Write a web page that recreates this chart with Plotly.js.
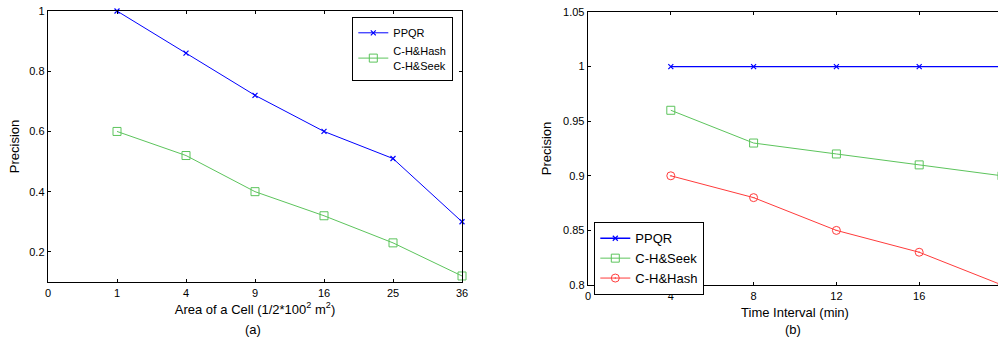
<!DOCTYPE html>
<html><head><meta charset="utf-8">
<script src="https://cdn.plot.ly/plotly-3.0.1.min.js"></script>
<style>html,body{margin:0;padding:0;overflow:hidden;background:#fff}#chart{width:1006px;height:337px}</style>
</head><body><div id="chart"></div>
<script>
// ---- data: panel (a) ----
const areaTickLabels = ['0', '1', '4', '9', '16', '25', '36'];
const areaIndex = [1, 2, 3, 4, 5, 6];
const ppqrA = [1.0, 0.86, 0.72, 0.60, 0.51, 0.30];
const chA = [0.60, 0.52, 0.40, 0.32, 0.23, 0.12];
// ---- data: panel (b) ----
const timeInterval = [4, 8, 12, 16, 20];
const ppqrB = [1.0, 1.0, 1.0, 1.0, 1.0];
const seekB = [0.96, 0.93, 0.92, 0.91, 0.90];
const hashB = [0.90, 0.88, 0.85, 0.83, 0.80];

const W = 1006, H = 337;
const BLUE = '#0000ff', GREEN = '#5cc45c', RED = '#ff3b3b';
const font = {family: 'Liberation Sans, Arial, sans-serif', color: '#000'};

const traces = [
  {x: areaIndex, y: ppqrA, name: 'PPQR', mode: 'lines+markers', xaxis: 'x', yaxis: 'y',
   line: {color: BLUE, width: 1}, marker: {symbol: 'x-thin-open', size: 5, color: BLUE, line: {color: BLUE, width: 1.2}}, legend: 'legend', cliponaxis: false},
  {x: areaIndex, y: chA, name: 'C-H&amp;Hash<br>C-H&amp;Seek', mode: 'lines+markers', xaxis: 'x', yaxis: 'y',
   line: {color: GREEN, width: 1}, marker: {symbol: 'square-open', size: 8, color: GREEN, line: {color: GREEN, width: 1}}, legend: 'legend', cliponaxis: false},
  {x: timeInterval, y: ppqrB, name: 'PPQR', mode: 'lines+markers', xaxis: 'x2', yaxis: 'y2',
   line: {color: BLUE, width: 1.3}, marker: {symbol: 'x-thin-open', size: 5, color: BLUE, line: {color: BLUE, width: 1.2}}, legend: 'legend2'},
  {x: timeInterval, y: seekB, name: 'C-H&amp;Seek', mode: 'lines+markers', xaxis: 'x2', yaxis: 'y2',
   line: {color: GREEN, width: 1}, marker: {symbol: 'square-open', size: 8, color: GREEN, line: {color: GREEN, width: 1}}, legend: 'legend2'},
  {x: timeInterval, y: hashB, name: 'C-H&amp;Hash', mode: 'lines+markers', xaxis: 'x2', yaxis: 'y2',
   line: {color: RED, width: 1}, marker: {symbol: 'circle-dot', size: 8, color: 'rgba(0,0,0,0)', line: {color: RED, width: 1}}, legend: 'legend2'}
];

const axisCommon = {
  showline: true, linecolor: '#000', linewidth: 1.3, mirror: 'ticks',
  ticks: 'inside', ticklen: 3, tickcolor: '#000', tickwidth: 1,
  showgrid: false, zeroline: false, tickfont: Object.assign({size: 11}, font)
};

const layout = {
  width: W, height: H, margin: {l: 0, r: 0, t: 0, b: 0},
  paper_bgcolor: '#fff', plot_bgcolor: '#fff', font: font, showlegend: true,
  xaxis: Object.assign({}, axisCommon, {
    domain: [48 / W, 462 / W], range: [0, 6], tickmode: 'array',
    tickvals: [0, 1, 2, 3, 4, 5, 6], ticktext: areaTickLabels, anchor: 'y',
    title: {text: 'Area of a Cell (1/2*100<sup>2</sup> m<sup>2</sup>)', font: Object.assign({size: 13}, font), standoff: 7}
  }),
  yaxis: Object.assign({}, axisCommon, {
    domain: [1 - 282 / H, 1 - 11 / H], range: [0.1, 1], tickmode: 'array',
    tickvals: [0.2, 0.4, 0.6, 0.8, 1], ticktext: ['0.2', '0.4', '0.6', '0.8', '1'], anchor: 'x',
    title: {text: 'Precision', font: Object.assign({size: 13}, font), standoff: 6}
  }),
  xaxis2: Object.assign({}, axisCommon, {
    domain: [588 / W, 1002 / W], range: [0, 20], tickmode: 'array',
    tickvals: [0, 4, 8, 12, 16, 20], anchor: 'y2',
    title: {text: 'Time Interval (min)', font: Object.assign({size: 13}, font), standoff: 7}
  }),
  yaxis2: Object.assign({}, axisCommon, {
    domain: [1 - 285 / H, 1 - 12 / H], range: [0.8, 1.05], tickmode: 'array',
    tickvals: [0.8, 0.85, 0.9, 0.95, 1, 1.05], ticktext: ['0.8', '0.85', '0.9', '0.95', '1', '1.05'], anchor: 'x2',
    title: {text: 'Precision', font: Object.assign({size: 13}, font), standoff: 8}
  }),
  legend: {
    x: 352 / W, y: 1 - 17 / H, xanchor: 'left', yanchor: 'top',
    bordercolor: '#000', borderwidth: 1.3, bgcolor: '#fff',
    font: Object.assign({size: 11}, font), tracegroupgap: 0, itemwidth: 30
  },
  legend2: {
    x: 594 / W, y: 1 - 222 / H, xanchor: 'left', yanchor: 'top',
    bordercolor: '#000', borderwidth: 1.3, bgcolor: '#fff',
    font: Object.assign({size: 13}, font), tracegroupgap: 0, itemwidth: 30
  },
  annotations: [
    {text: '(a)', x: 253 / W, y: 1 - 329 / H, xref: 'paper', yref: 'paper', showarrow: false,
     xanchor: 'center', yanchor: 'middle', font: Object.assign({size: 13}, font)},
    {text: '(b)', x: 793 / W, y: 1 - 329 / H, xref: 'paper', yref: 'paper', showarrow: false,
     xanchor: 'center', yanchor: 'middle', font: Object.assign({size: 13}, font)}
  ]
};

Plotly.newPlot('chart', traces, layout, {displayModeBar: false, staticPlot: true});
</script></body></html>
